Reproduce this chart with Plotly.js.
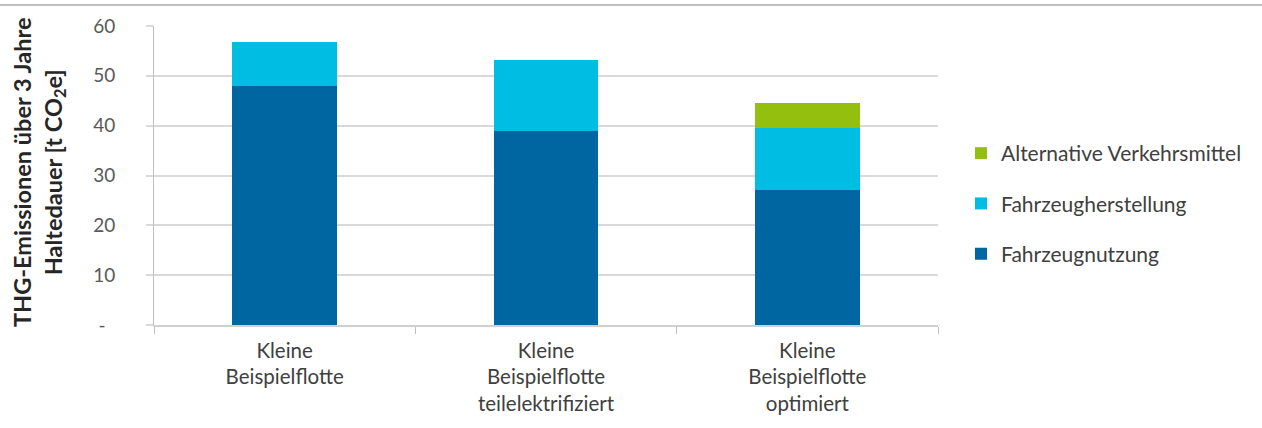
<!DOCTYPE html>
<html>
<head>
<meta charset="utf-8">
<script src="https://cdn.plot.ly/plotly-3.0.1.min.js"></script>
<style>
html,body{margin:0;padding:0;background:#fff;}
#chart{width:1262px;height:428px;}
</style>
</head>
<body>
<div id="chart"></div>
<script>
const categories = ["Kleine<br>Beispielflotte", "Kleine<br>Beispielflotte<br>teilelektrifiziert", "Kleine<br>Beispielflotte<br>optimiert"];
const fahrzeugnutzung = [48.0, 39.0, 27.0];
const fahrzeugherstellung = [8.8, 14.1, 12.6];
const alternativeVerkehrsmittel = [0, 0, 5.0];
const yTickVals = [0, 10, 20, 30, 40, 50, 60];
const yTickText = ["-\u00a0\u00a0", "10", "20", "30", "40", "50", "60"];

const FONT = "Lato, 'Open Sans', sans-serif";
const L = 154, R = 938, T = 26, B = 325;
const W = R - L, H = B - T;

const traces = [
  {type: "bar", name: "Fahrzeugnutzung", x: categories, y: fahrzeugnutzung,
   marker: {color: "#0066a1"}, legendgroup: "a", legendrank: 3, hoverinfo: "y+name"},
  {type: "bar", name: "Fahrzeugherstellung", x: categories, y: fahrzeugherstellung,
   marker: {color: "#00bde3"}, legendgroup: "b", legendrank: 2, hoverinfo: "y+name"},
  {type: "bar", name: "Alternative Verkehrsmittel", x: categories, y: alternativeVerkehrsmittel,
   marker: {color: "#95bf0f"}, legendgroup: "c", legendrank: 1, hoverinfo: "y+name"}
];

const layout = {
  width: 1262, height: 428,
  margin: {l: L, r: 1262 - R, t: T, b: 428 - B, autoexpand: false},
  paper_bgcolor: "#fff", plot_bgcolor: "#fff",
  barmode: "stack", bargap: 0.6,
  font: {family: FONT, size: 20, color: "#404040"},
  xaxis: {
    type: "category", tickson: "boundaries", ticks: "outside", ticklen: 7,
    tickcolor: "#bfbfbf", tickwidth: 1, showline: true, linecolor: "#d0d0d0", linewidth: 2,
    showgrid: false, ticklabelstandoff: 6,
    tickfont: {family: FONT, size: 20.5, color: "#404040"}, fixedrange: true
  },
  yaxis: {
    range: [0, 60], tickvals: yTickVals, ticktext: yTickText,
    showgrid: true, gridcolor: "#d9d9d9", gridwidth: 2,
    zeroline: false, showline: true, linecolor: "#bfbfbf", linewidth: 1,
    ticks: "outside", ticklen: 7, tickcolor: "#d9d9d9", tickwidth: 2,
    ticklabelstandoff: 27,
    tickfont: {family: FONT, size: 19, color: "#595959"}, fixedrange: true
  },
  legend: {
    x: (961 - L) / W, xanchor: "left", y: (B - 133) / H, yanchor: "top",
    traceorder: "grouped", tracegroupgap: 20,
    font: {family: FONT, size: 21, color: "#404040"}, bgcolor: "rgba(0,0,0,0)",
    itemwidth: 30
  },
  annotations: [{
    xref: "paper", yref: "paper", x: (39 - L) / W, y: (B - 172) / H,
    xanchor: "center", yanchor: "middle", textangle: -90, showarrow: false,
    text: "<b>THG-Emissionen über 3 Jahre<br>Haltedauer [t CO<sub>2</sub>e]</b>",
    font: {family: FONT, size: 23.5, color: "#262626"}
  }],
  shapes: [{
    type: "line", xref: "paper", yref: "paper",
    x0: -L / W, x1: (1262 - L) / W, y0: (B - 5) / H, y1: (B - 5) / H,
    line: {color: "#bfbfbf", width: 2}
  }]
};

Plotly.newPlot("chart", traces, layout, {displayModeBar: false, staticPlot: true});
</script>
</body>
</html>
